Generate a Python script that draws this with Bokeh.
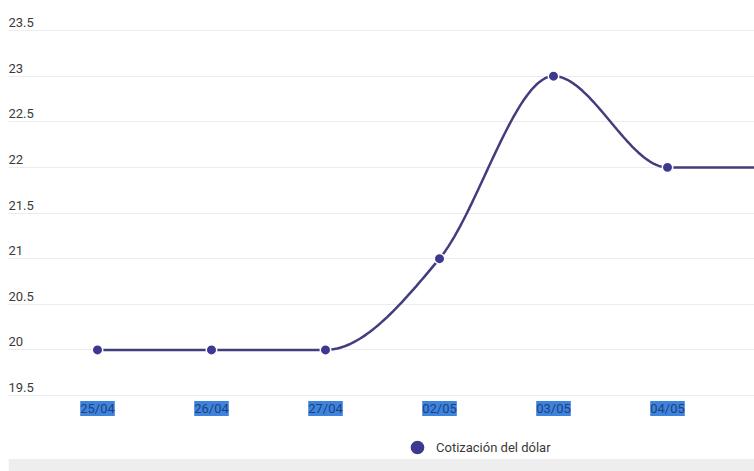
import numpy as np
from bokeh.plotting import figure
from bokeh.models import Range1d, Grid, FixedTicker, Legend, LegendItem, BoxAnnotation
from bokeh.core.properties import value
from bokeh.embed import file_html
from bokeh.resources import INLINE

# ---- data ----
dates = ["25/04", "26/04", "27/04", "02/05", "03/05", "04/05"]
rates = [20, 20, 20, 21, 23, 22, 22]          # last point lies beyond the visible edge
y_ticks = [19.5, 20, 20.5, 21, 21.5, 22, 22.5, 23, 23.5]
series_name = "Cotización del dólar"

FONT = "Roboto"
LINE_COLOR = "#423d7e"
DOT_COLOR = "#3d3890"


def monotone_curve(xs, ys, n=40):
    """Monotone cubic (d3 curveMonotoneX style) interpolation."""
    xs = np.asarray(xs, float)
    ys = np.asarray(ys, float)
    h = np.diff(xs)
    s = np.diff(ys) / h
    m = np.zeros_like(ys)
    for i in range(1, len(ys) - 1):
        s0, s1 = s[i - 1], s[i]
        p = (s0 * h[i] + s1 * h[i - 1]) / (h[i - 1] + h[i])
        m[i] = (np.sign(s0) + np.sign(s1)) * min(abs(s0), abs(s1), 0.5 * abs(p)) if s0 * s1 > 0 else 0.0
    m[0] = (3 * s[0] - m[1]) / 2
    m[-1] = (3 * s[-1] - m[-2]) / 2
    out_x, out_y = [], []
    for i in range(len(xs) - 1):
        t = np.linspace(0, 1, n)
        h00 = 2 * t**3 - 3 * t**2 + 1
        h10 = t**3 - 2 * t**2 + t
        h01 = -2 * t**3 + 3 * t**2
        h11 = t**3 - t**2
        yy = h00 * ys[i] + h10 * h[i] * m[i] + h01 * ys[i + 1] + h11 * h[i] * m[i + 1]
        xx = xs[i] + t * h[i]
        out_x.extend(xx.tolist())
        out_y.extend(yy.tolist())
    return out_x, out_y


idx = list(range(len(rates)))
cx, cy = monotone_curve(idx, rates)

# layout (pixels)
W, H = 754, 471
LEFT = 8
px_per_cat = 114.0
px_per_unit = 91.25
first_cat_px = 97.0     # page x of first category
top_tick_px = 30.0      # page y of top tick
x_start = (LEFT - first_cat_px) / px_per_cat
xr = Range1d(x_start, x_start + (W - LEFT) / px_per_cat)
y_top = y_ticks[-1] + top_tick_px / px_per_unit
yr = Range1d(y_top - H / px_per_unit, y_top)

p = figure(width=W, height=H, x_range=xr, y_range=yr,
           x_axis_type=None, y_axis_type=None,
           output_backend="svg", toolbar_location=None,
           min_border_left=LEFT, min_border_right=0, min_border_top=0, min_border_bottom=0)
p.outline_line_color = None
p.background_fill_color = "white"
p.border_fill_color = "white"

grid = Grid(dimension=1, ticker=FixedTicker(ticks=y_ticks),
            grid_line_color="#ececec", grid_line_width=1)
p.add_layout(grid)

# grey strip along the bottom of the widget
p.add_layout(BoxAnnotation(top=y_top - 458.5 / px_per_unit, fill_color="#eeeeee",
                           fill_alpha=1, line_color=None))

# y tick labels, drawn inside the plot above each grid line
p.text(x=[xr.start] * len(y_ticks), y=y_ticks, text=[("%g" % t) for t in y_ticks],
       text_font=value(FONT), text_font_size="13px", text_color="#3a3a3a",
       text_align="left", text_baseline="alphabetic", y_offset=-8)

# x category labels (highlighted as in the reference)
p.text(x=list(range(len(dates))), y=[y_ticks[0]] * len(dates), text=dates,
       text_font=value(FONT), text_font_size="13px", text_color="#22407c",
       text_align="center", text_baseline="middle", y_offset=13,
       background_fill_color="#3d84df", padding=0)

p.line(cx, cy, line_color=LINE_COLOR, line_width=2.5)
dots = p.scatter(idx, rates, size=10.5, fill_color=DOT_COLOR,
                 line_color="white", line_width=1.5)

legend = Legend(items=[LegendItem(label=series_name, renderers=[dots])],
                location=(390, 5), orientation="horizontal",
                glyph_width=38, glyph_height=38, label_standoff=0,
                label_text_font=FONT, label_text_font_size="13px",
                label_text_color="#3a3a3a", padding=0, margin=0, spacing=0,
                border_line_color=None, background_fill_alpha=0)
p.add_layout(legend)

open("out.html", "w").write(file_html(p, INLINE))
